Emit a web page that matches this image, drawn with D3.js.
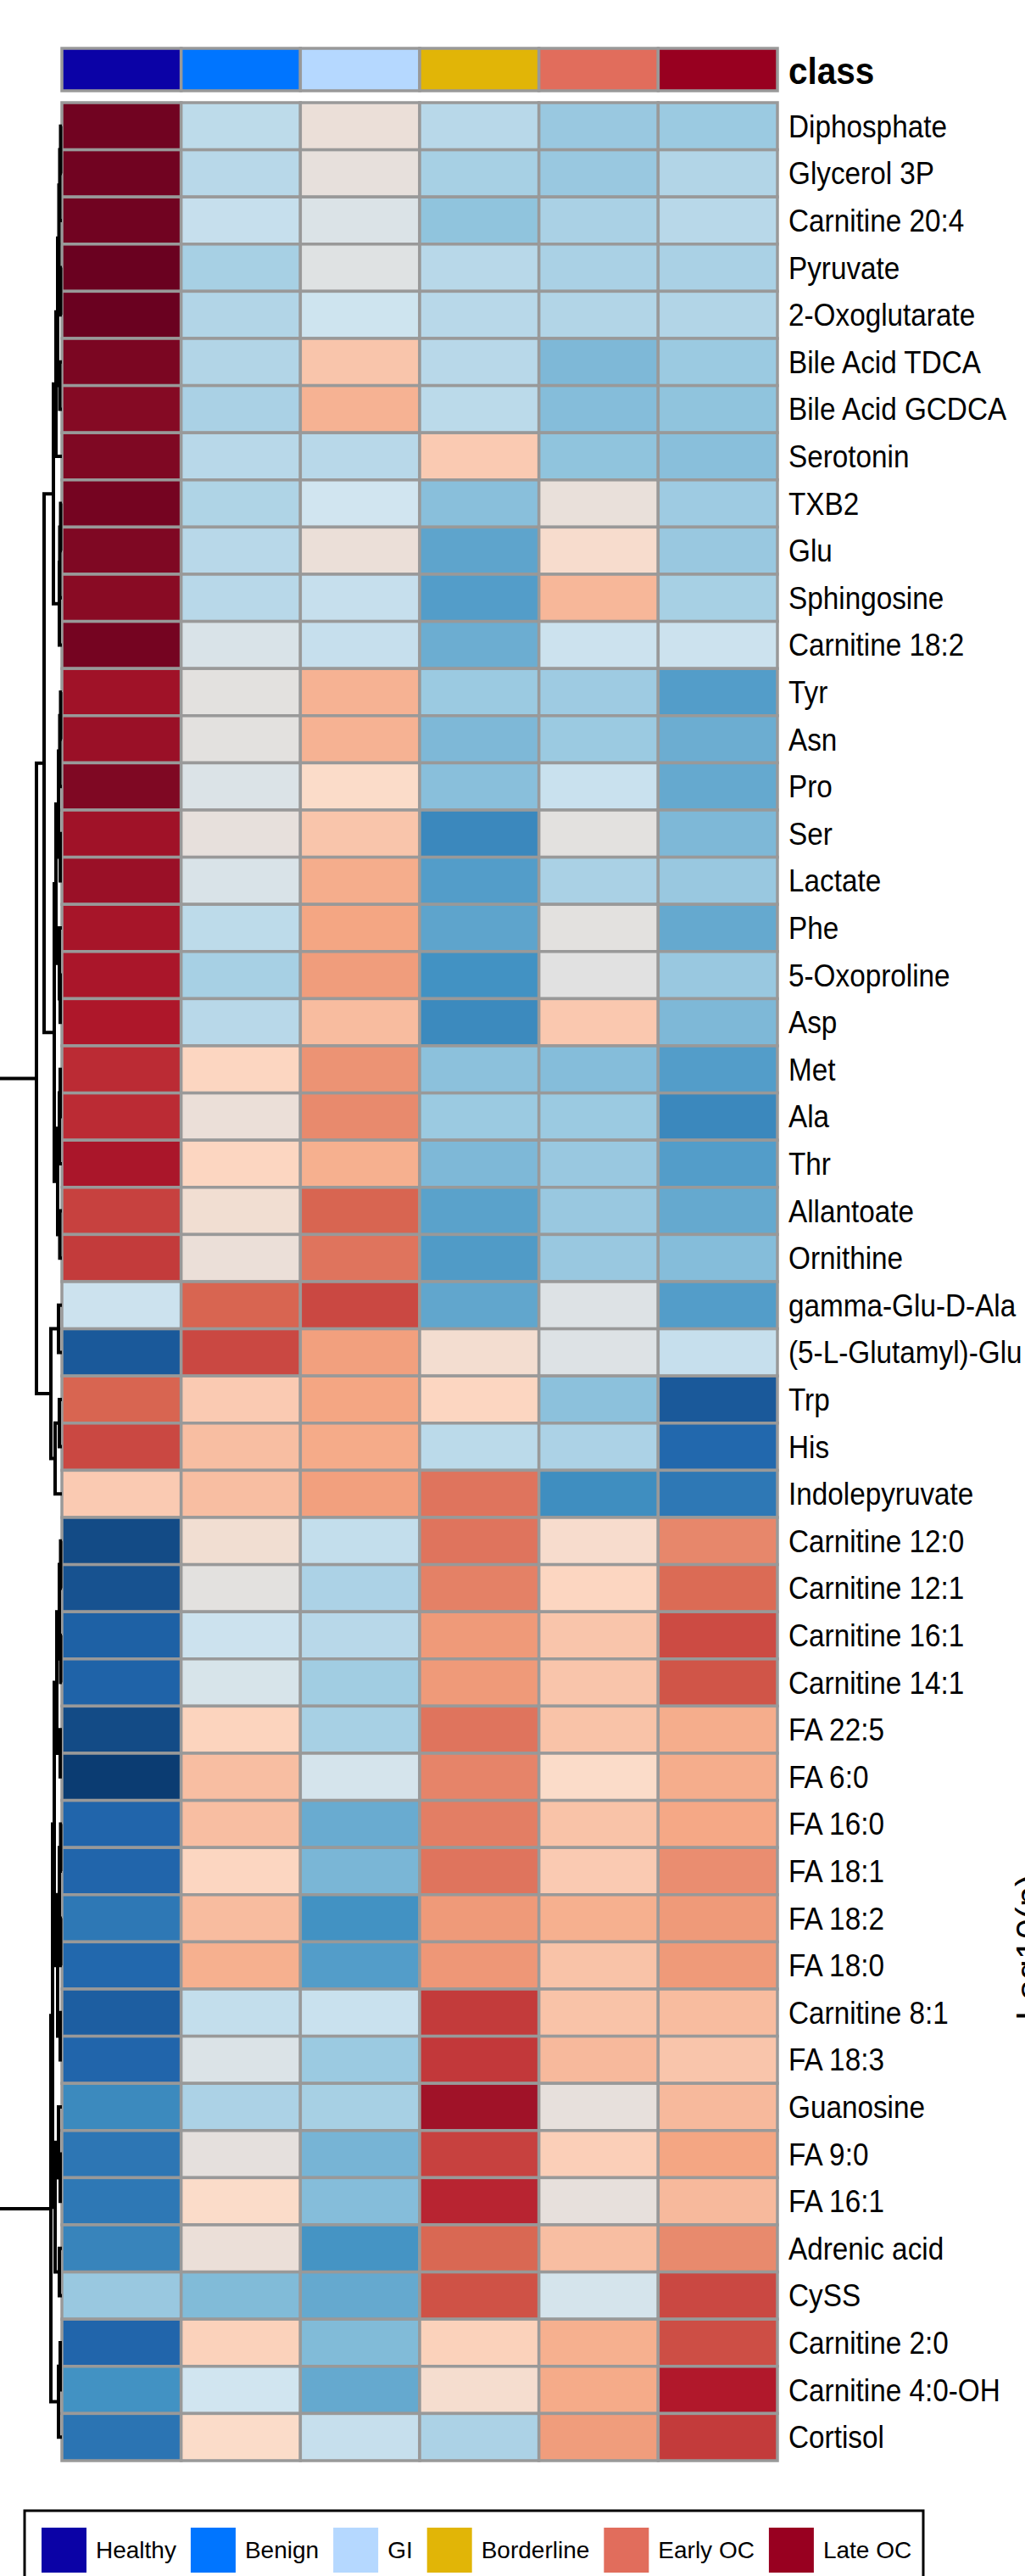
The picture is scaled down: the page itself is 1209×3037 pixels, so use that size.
<!DOCTYPE html>
<html>
<head>
<meta charset="utf-8">
<script src="https://cdn.jsdelivr.net/npm/d3@7"></script>
<style>
  body { margin: 0; background: #fff; }
  svg { display: block; }
</style>
</head>
<body>
<div class="chart"></div>
<script>
// class groups (columns) and their header colours
var groups = ["Healthy", "Benign", "GI", "Borderline", "Early OC", "Late OC"];
var groupColors = ["#0b02a6", "#0075ff", "#b5d8ff", "#e1b507", "#e16d5c", "#980020"];

// metabolites (rows), top to bottom
var metabolites = ["Diphosphate", "Glycerol 3P", "Carnitine 20:4", "Pyruvate", "2-Oxoglutarate",
  "Bile Acid TDCA", "Bile Acid GCDCA", "Serotonin", "TXB2", "Glu", "Sphingosine", "Carnitine 18:2",
  "Tyr", "Asn", "Pro", "Ser", "Lactate", "Phe", "5-Oxoproline", "Asp", "Met", "Ala", "Thr",
  "Allantoate", "Ornithine", "gamma-Glu-D-Ala", "(5-L-Glutamyl)-Glu", "Trp", "His", "Indolepyruvate",
  "Carnitine 12:0", "Carnitine 12:1", "Carnitine 16:1", "Carnitine 14:1", "FA 22:5", "FA 6:0",
  "FA 16:0", "FA 18:1", "FA 18:2", "FA 18:0", "Carnitine 8:1", "FA 18:3", "Guanosine", "FA 9:0",
  "FA 16:1", "Adrenic acid", "CySS", "Carnitine 2:0", "Carnitine 4:0-OH", "Cortisol"];

// scaled values per group, one per metabolite
var healthy = [0.97, 0.97, 0.97, 0.99, 0.99, 0.94, 0.91, 0.93, 0.96, 0.93, 0.9, 0.96,
  0.83, 0.85, 0.93, 0.83, 0.85, 0.81, 0.8, 0.79, 0.72, 0.72, 0.8, 0.65, 0.67,
  -0.13, -0.83, 0.54, 0.63, 0.18,
  -0.89, -0.86, -0.8, -0.79, -0.89, -0.95, -0.78, -0.78, -0.69, -0.77,
  -0.81, -0.78, -0.6, -0.7, -0.69, -0.63, -0.31, -0.78, -0.56, -0.71];
var benign = [-0.18, -0.2, -0.15, -0.26, -0.22, -0.22, -0.25, -0.2, -0.23, -0.2, -0.2, -0.07,
  -0.02, -0.02, -0.06, 0.0, -0.07, -0.18, -0.26, -0.2, 0.13, 0.02, 0.13, 0.05, 0.02,
  0.54, 0.63, 0.18, 0.23, 0.23,
  0.05, -0.02, -0.13, -0.08, 0.14, 0.23, 0.23, 0.13, 0.24, 0.29,
  -0.16, -0.06, -0.24, -0.01, 0.1, 0.02, -0.38, 0.15, -0.11, 0.1];
var gi = [0.02, 0.0, -0.06, -0.04, -0.12, 0.2, 0.28, -0.2, -0.11, 0.02, -0.15, -0.15,
  0.28, 0.28, 0.1, 0.2, 0.3, 0.33, 0.36, 0.24, 0.39, 0.42, 0.29, 0.54, 0.49,
  0.63, 0.35, 0.33, 0.31, 0.35,
  -0.16, -0.24, -0.2, -0.28, -0.26, -0.09, -0.45, -0.4, -0.56, -0.51,
  -0.14, -0.3, -0.26, -0.41, -0.37, -0.55, -0.46, -0.38, -0.46, -0.15];
var borderline = [-0.2, -0.26, -0.34, -0.2, -0.2, -0.2, -0.19, 0.18, -0.36, -0.48, -0.51, -0.44,
  -0.3, -0.39, -0.36, -0.61, -0.51, -0.48, -0.56, -0.6, -0.35, -0.3, -0.39, -0.49, -0.52,
  -0.47, 0.06, 0.13, -0.19, 0.49,
  0.49, 0.45, 0.37, 0.37, 0.49, 0.44, 0.46, 0.49, 0.37, 0.38,
  0.67, 0.68, 0.83, 0.65, 0.74, 0.53, 0.6, 0.15, 0.07, -0.24];
var earlyOC = [-0.31, -0.31, -0.25, -0.25, -0.22, -0.39, -0.37, -0.34, 0.01, 0.08, 0.26, -0.13,
  -0.29, -0.3, -0.14, -0.02, -0.25, -0.02, -0.03, 0.19, -0.37, -0.3, -0.31, -0.31, -0.31,
  -0.05, -0.05, -0.35, -0.24, -0.58,
  0.08, 0.13, 0.2, 0.2, 0.21, 0.1, 0.21, 0.18, 0.29, 0.21,
  0.21, 0.25, 0.0, 0.16, 0.0, 0.23, -0.09, 0.29, 0.31, 0.36];
var lateOC = [-0.3, -0.22, -0.2, -0.25, -0.22, -0.3, -0.34, -0.36, -0.29, -0.31, -0.26, -0.13,
  -0.51, -0.44, -0.46, -0.39, -0.31, -0.46, -0.31, -0.39, -0.51, -0.61, -0.51, -0.46, -0.37,
  -0.51, -0.15, -0.83, -0.77, -0.69,
  0.43, 0.52, 0.62, 0.59, 0.3, 0.3, 0.32, 0.41, 0.37, 0.37,
  0.24, 0.2, 0.25, 0.33, 0.25, 0.42, 0.63, 0.61, 0.78, 0.67];

// row dendrogram: [height, left, right], leaves are row indices
var clusterA1a = [10,
  [7, [5, [3.5, [2.5, [1.5, 0, 1], 2], [1.5, 3, 4]], [2.5, 5, 6]], 7],
  [3, [2.5, [1.5, 8, 9], 10], 11]];
var clusterA1b = [9,
  [7, [4, [2.5, [1.5, 12, 13], 14], [2, 15, 16]], [3, 17, [2, 18, 19]]],
  [5, [3, [2, 20, 21], 22], [2.5, 23, 24]]];
var clusterA2 = [13, [4, 25, 26], [8, [3, 27, 28], 29]];
var clusterB1 = [11,
  [9, [6, [3, [1.5, 30, 31], [1.5, 32, 33]], [2, 34, 35]], [5, [3, [1.5, 36, 37], [1.5, 38, 39]], [2, 40, 41]]],
  [8, [4, 42, [2, 43, 44]], [3, 45, 46]]];
var clusterB2 = [4, [2, 47, 48], 49];
var rowTree = [90, [30, [21, clusterA1a, clusterA1b], clusterA2], [13, clusterB1, clusterB2]];

// colour palette (RdBu, 10 classes, reversed)
var paletteColors = ["#053061", "#2166ac", "#4393c3", "#92c5de", "#d1e5f0",
  "#fddbc7", "#f4a582", "#d6604d", "#b2182b", "#67001f"];

var columns = [healthy, benign, gi, borderline, earlyOC, lateOC];

var svgWidth = 1209;
var svgHeight = 3037;
var heat = { left: 73, right: 917, top: 121, bottom: 2901 };

var svg = d3.select(".chart")
    .append("svg")
    .attr("width", svgWidth)
    .attr("height", svgHeight)
    .style("font-family", "'Liberation Sans', Arial, sans-serif");

svg.append("rect").attr("width", svgWidth).attr("height", svgHeight).attr("fill", "#fff");

var xBand = d3.scaleBand().domain(groups).range([heat.left, heat.right]);
var yBand = d3.scaleBand().domain(d3.range(metabolites.length)).range([heat.top, heat.bottom]);
var color = d3.scaleLinear()
    .domain(d3.range(10).map(k => -1 + 2 * k / 9))
    .range(paletteColors)
    .interpolate(d3.interpolateRgb)
    .clamp(true);

// class header bar
svg.append("g").selectAll("rect")
    .data(groups)
    .join("rect")
    .attr("x", d => xBand(d))
    .attr("y", 57)
    .attr("width", xBand.bandwidth())
    .attr("height", 50)
    .attr("fill", (d, i) => groupColors[i])
    .attr("stroke", "#999")
    .attr("stroke-width", 3.5);

svg.append("text")
    .attr("transform", "translate(930,99) scale(0.9,1)")
    .attr("font-size", 45)
    .attr("font-weight", "bold")
    .text("class");

// heatmap cells
var cells = [];
columns.forEach((col, j) => {
    col.forEach((v, i) => cells.push({ row: i, group: groups[j], value: v }));
});

svg.append("g").selectAll("rect")
    .data(cells)
    .join("rect")
    .attr("x", d => xBand(d.group))
    .attr("y", d => yBand(d.row))
    .attr("width", xBand.bandwidth())
    .attr("height", yBand.bandwidth())
    .attr("fill", d => color(d.value))
    .attr("stroke", "#999")
    .attr("stroke-width", 3.5);

// row labels
svg.append("g").selectAll("text")
    .data(metabolites)
    .join("text")
    .attr("transform", (d, i) => `translate(930,${yBand(i) + yBand.bandwidth() / 2 + 13}) scale(0.9,1)`)
    .attr("font-size", 37)
    .attr("fill", "#000")
    .text(d => d);

// dendrogram
var xDend = d3.scaleLinear().domain([0, 30]).range([heat.left, 43]);
var rowCenter = i => yBand(i) + yBand.bandwidth() / 2;
var dendPaths = [];
function layoutNode(node) {
    if (typeof node === "number") return { x: xDend(0), y: rowCenter(node) };
    var a = layoutNode(node[1]);
    var b = layoutNode(node[2]);
    var x = xDend(node[0]);
    dendPaths.push(`M${a.x},${a.y}H${x}V${b.y}H${b.x}`);
    return { x: x, y: (a.y + b.y) / 2 };
}
layoutNode(rowTree);

svg.append("g").selectAll("path")
    .data(dendPaths)
    .join("path")
    .attr("d", d => d)
    .attr("fill", "none")
    .attr("stroke", "#000")
    .attr("stroke-width", 4);

// colour key title, mostly outside the page
svg.append("text")
    .attr("transform", "translate(1228,2382) rotate(-90)")
    .attr("font-size", 43)
    .text("Log10(p)");

// legend
var legendBox = svg.append("g");
legendBox.append("rect")
    .attr("x", 29)
    .attr("y", 2960)
    .attr("width", 1060)
    .attr("height", 140)
    .attr("fill", "#fff")
    .attr("stroke", "#000")
    .attr("stroke-width", 3);

var lx = 49;
groups.forEach((g, i) => {
    legendBox.append("rect")
        .attr("x", lx)
        .attr("y", 2980)
        .attr("width", 53)
        .attr("height", 53)
        .attr("fill", groupColors[i]);
    var t = legendBox.append("text")
        .attr("x", lx + 64)
        .attr("y", 3016)
        .attr("font-size", 28)
        .text(g);
    lx = lx + 64 + t.node().getComputedTextLength() + 17;
});
</script>
</body>
</html>
